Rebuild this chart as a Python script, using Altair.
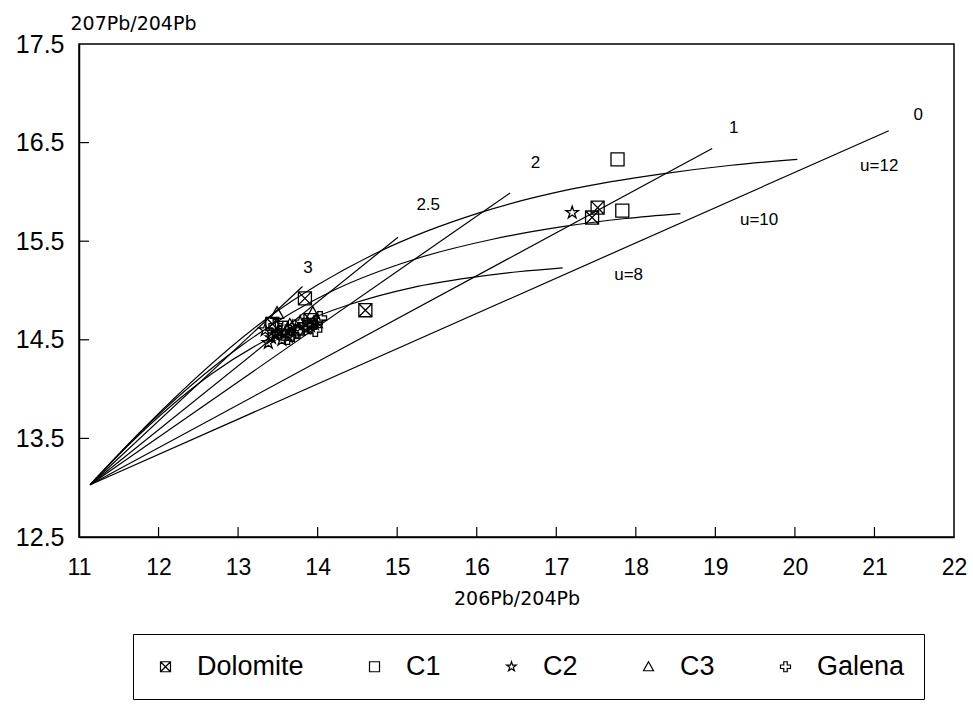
import altair as alt
import pandas as pd

# ---------------- data ----------------
tip = (11.14, 13.03)

# growth curves (u = 8, 10, 12)
g8_x = [11.14, 11.62, 12.66, 13.57, 14.41, 15.19, 15.92, 16.52, 17.08]
g8_y = [13.03, 13.43, 14.15, 14.59, 14.86, 15.03, 15.13, 15.19, 15.23]
g10_x = [11.14, 11.73, 13.04, 14.17, 15.23, 16.20, 17.10, 17.87, 18.56]
g10_y = [13.03, 13.53, 14.44, 14.99, 15.32, 15.52, 15.65, 15.73, 15.78]
g12_x = [11.14, 11.86, 13.37, 14.79, 16.04, 17.20, 18.31, 19.20, 20.03]
g12_y = [13.03, 13.64, 14.72, 15.40, 15.79, 16.03, 16.18, 16.27, 16.33]

# isochrons (0, 1, 2, 2.5, 3 Ga): end points, all start at the tip
iso_names = ["0", "1", "2", "2.5", "3"]
iso_end_x = [21.18, 18.96, 16.42, 15.01, 13.81]
iso_end_y = [16.62, 16.44, 15.99, 15.54, 15.04]

# curve labels
lab_text = ["0", "1", "2", "2.5", "3", "u=12", "u=10", "u=8"]
lab_x = [21.55, 19.23, 16.74, 15.39, 13.88, 21.06, 19.55, 17.91]
lab_y = [16.78, 16.65, 16.29, 15.87, 15.23, 16.26, 15.72, 15.16]

# samples
dol_x = [13.84, 14.60, 17.52, 17.45, 13.43, 13.91]
dol_y = [14.92, 14.80, 15.84, 15.74, 14.66, 14.70]
c1_x = [17.77, 17.83, 13.55]
c1_y = [16.33, 15.81, 14.62]
c2_x = [17.20, 13.38, 13.47, 13.59, 13.72, 13.91, 14.01, 13.34, 13.78, 13.55,
        13.42, 13.63, 13.85, 13.96, 13.50, 13.68]
c2_y = [15.79, 14.47, 14.55, 14.57, 14.60, 14.64, 14.68, 14.60, 14.68, 14.50,
        14.52, 14.53, 14.62, 14.66, 14.58, 14.63]
c3_x = [13.49, 13.94, 13.76, 13.65]
c3_y = [14.77, 14.77, 14.60, 14.65]
gal_x = [13.59, 13.84, 13.97, 13.68, 14.03, 13.47, 13.52, 13.75, 13.90, 13.62]
gal_y = [14.62, 14.65, 14.60, 14.55, 14.72, 14.64, 14.57, 14.58, 14.63, 14.52]

x_ticks = [11, 12, 13, 14, 15, 16, 17, 18, 19, 20, 21, 22]
y_ticks = [12.5, 13.5, 14.5, 15.5, 16.5, 17.5]

groups = ["Dolomite", "C1", "C2", "C3", "Galena"]

# ---------------- tables ----------------
rows = []
for name, xs, ys in [("u8", g8_x, g8_y), ("u10", g10_x, g10_y), ("u12", g12_x, g12_y)]:
    for i, (a, b) in enumerate(zip(xs, ys)):
        rows.append({"name": name, "i": i, "x": a, "y": b})
curves_df = pd.DataFrame(rows)

rows = []
for n, ex, ey in zip(iso_names, iso_end_x, iso_end_y):
    rows.append({"name": "iso" + n, "i": 0, "x": tip[0], "y": tip[1]})
    rows.append({"name": "iso" + n, "i": 1, "x": ex, "y": ey})
iso_df = pd.DataFrame(rows)

labels_df = pd.DataFrame({"t": lab_text, "x": lab_x, "y": lab_y})

pts = []
for g, xs, ys in zip(groups, [dol_x, c1_x, c2_x, c3_x, gal_x], [dol_y, c1_y, c2_y, c3_y, gal_y]):
    for a, b in zip(xs, ys):
        pts.append({"g": g, "x": a, "y": b})
pts_df = pd.DataFrame(pts)

xt_df = pd.DataFrame({"x": x_ticks[1:-1]})
yt_df = pd.DataFrame({"y": y_ticks[1:-1]})

# ---------------- chart ----------------
FONT = "Liberation Sans, Arial, sans-serif"
W, H = 875, 493

xscale = alt.Scale(domain=[11, 22], nice=False, zero=False)
yscale = alt.Scale(domain=[12.5, 17.5], nice=False, zero=False)

X = alt.X("x:Q", scale=xscale,
          axis=alt.Axis(values=x_ticks, format="d", labelFontSize=23, labelPadding=19,
                        title="206Pb/204Pb", titleY=61))
Y = alt.Y("y:Q", scale=yscale,
          axis=alt.Axis(values=y_ticks, format=".1f", labelFontSize=25, labelPadding=15,
                        title="207Pb/204Pb", titleAngle=0, titleAlign="left",
                        titleX=-9, titleY=-21))

curves = alt.Chart(curves_df).mark_line(color="black", strokeWidth=1.2,
                                        interpolate="monotone").encode(
    x=X, y=Y, detail="name:N", order="i:Q")
isos = alt.Chart(iso_df).mark_line(color="black", strokeWidth=1.2).encode(
    x=X, y=Y, detail="name:N", order="i:Q")

texts = alt.Chart(labels_df).mark_text(font=FONT, fontSize=17, color="black").encode(
    x=X, y=Y, text="t:N")

# symbol outlines as SVG paths in the unit square
SYM_BOXX = "M-1,-1L1,-1L1,1L-1,1Z M-1,-1L1,1 M1,-1L-1,1"
SYM_SQ = "M-1,-1L1,-1L1,1L-1,1Z"
SYM_STAR = ("M0,-1L0.225,-0.309L0.951,-0.309L0.363,0.118L0.588,0.809L0,0.382"
            "L-0.588,0.809L-0.363,0.118L-0.951,-0.309L-0.225,-0.309Z")
SYM_TRI = "M0,-1L1,0.8L-1,0.8Z"
SYM_CROSS = ("M-0.35,-1L0.35,-1L0.35,-0.35L1,-0.35L1,0.35L0.35,0.35L0.35,1L-0.35,1"
             "L-0.35,0.35L-1,0.35L-1,-0.35L-0.35,-0.35Z")

points = alt.Chart(pts_df).mark_point(size=170, strokeWidth=1.3, color="black",
                                      opacity=1).encode(
    x=X, y=Y,
    shape=alt.Shape("g:N",
                    scale=alt.Scale(domain=groups,
                                    range=[SYM_BOXX, SYM_SQ, SYM_STAR, SYM_TRI, SYM_CROSS]),
                    title=None,
                    legend=alt.Legend(orient="none", legendX=54, legendY=590,
                                      direction="horizontal", columns=5)),
)

xt = alt.Chart(xt_df).mark_rule(color="black", strokeWidth=1.2).encode(
    x=X, y=alt.value(H), y2=alt.value(H - 10))
yt = alt.Chart(yt_df).mark_rule(color="black", strokeWidth=1.2).encode(
    y=Y, x=alt.value(0), x2=alt.value(10))

chart = alt.layer(curves, isos, texts, points, xt, yt).properties(
    width=W, height=H,
    autosize=alt.AutoSizeParams(type="none"),
    padding={"left": 79, "top": 44, "right": 19, "bottom": 705 - 44 - H},
    background="white",
).configure_view(
    stroke="black", strokeWidth=1.5
).configure_axis(
    tickSize=0, grid=False, domainColor="black", domainWidth=1.5,
    labelFont=FONT, labelColor="black", labelFlush=False,
    titleFont="DejaVu Sans", titleFontSize=19, titleFontWeight="normal",
    titleColor="black", titleBaseline="middle",
).configure_legend(
    strokeColor="black", padding=19, labelFont=FONT, labelFontSize=27,
    labelColor="black", labelOffset=18, columnPadding=57, symbolSize=100,
    symbolStrokeWidth=1.2, symbolStrokeColor="black", symbolOpacity=1,
)

chart.save("out.html", embed_options={"renderer": "svg", "actions": False})
